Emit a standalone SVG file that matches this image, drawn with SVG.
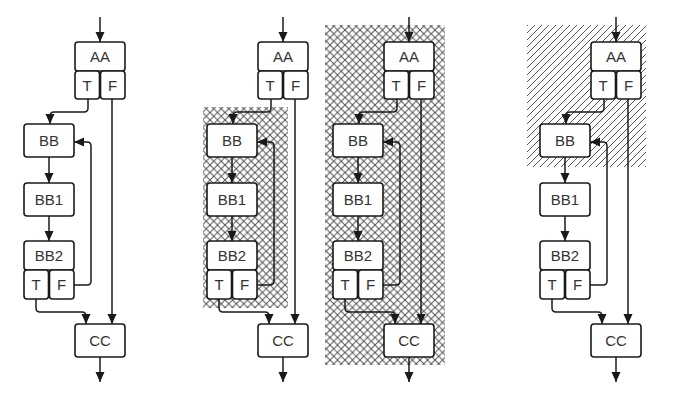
<svg xmlns="http://www.w3.org/2000/svg" width="690" height="402" viewBox="0 0 690 402">
<style>
.box{fill:#fff;stroke:#1a1a1a;stroke-width:1.6}
.lbl{font-family:"Liberation Sans",Arial,sans-serif;font-size:15px;fill:#333;text-anchor:middle}
.con{fill:none;stroke:#1a1a1a;stroke-width:1.5}
.arr{marker-end:url(#ah)}
</style>
<defs>
<marker id="ah" markerUnits="userSpaceOnUse" markerWidth="10" markerHeight="10" viewBox="0 0 10 10" refX="10" refY="5" orient="auto">
<path d="M0,0.5 L10,5 L0,9.5 Z" fill="#1a1a1a"/>
</marker>
<pattern id="cross" patternUnits="userSpaceOnUse" width="7.5" height="7.5">
<path d="M-1,8.5 L8.5,-1 M-1,-1 L8.5,8.5" stroke="#555" stroke-width="1" fill="none"/>
</pattern>
<pattern id="diag" patternUnits="userSpaceOnUse" width="7" height="7">
<path d="M-1,8 L8,-1 M-4,4 L4,-4 M3,11 L11,3" stroke="#555" stroke-width="1" fill="none"/>
</pattern>
<g id="panel">
<g id="connectors">
<path class="con arr" d="M100,17 V42"/>
<path class="con arr" d="M88,99 V108 Q88,112 84,112 H54 Q50,112 50,116 V124"/>
<path class="con arr" d="M49,157 V183"/>
<path class="con arr" d="M49,216 V241"/>
<path class="con arr" d="M74,285 H87 Q91,285 91,281 V146 Q91,142 87,142 H74"/>
<path class="con arr" d="M36,299 V308 Q36,312 40,312 H82 Q86,312 86,316 V324"/>
<path class="con arr" d="M112,99 V324"/>
<path class="con arr" d="M100,357 V382"/>
</g>
<g class="node-AA">
<rect class="box" x="75" y="42" width="50" height="29" rx="3"/>
<text class="lbl" x="100" y="62">AA</text>
</g>
<g class="node-AA-T">
<rect class="box" x="75" y="71" width="24.5" height="28" rx="3"/>
<text class="lbl" x="87" y="90.5">T</text>
</g>
<g class="node-AA-F">
<rect class="box" x="100.5" y="71" width="24.5" height="28" rx="3"/>
<text class="lbl" x="112.5" y="90.5">F</text>
</g>
<g class="node-BB">
<rect class="box" x="24" y="124" width="50" height="33" rx="3"/>
<text class="lbl" x="49" y="146">BB</text>
</g>
<g class="node-BB1">
<rect class="box" x="24" y="183" width="50" height="33" rx="3"/>
<text class="lbl" x="49" y="205">BB1</text>
</g>
<g class="node-BB2">
<rect class="box" x="24" y="241" width="50" height="29" rx="3"/>
<text class="lbl" x="49" y="261">BB2</text>
</g>
<g class="node-BB2-T">
<rect class="box" x="24" y="270" width="24.5" height="29" rx="3"/>
<text class="lbl" x="36" y="290">T</text>
</g>
<g class="node-BB2-F">
<rect class="box" x="49.5" y="270" width="24.5" height="29" rx="3"/>
<text class="lbl" x="61.5" y="290">F</text>
</g>
<g class="node-CC">
<rect class="box" x="75" y="324" width="50" height="33" rx="3"/>
<text class="lbl" x="100" y="346">CC</text>
</g>
</g>
</defs>
<rect width="690" height="402" fill="#fff"/>
<g id="hatch">
<rect x="203" y="107" width="85" height="201" fill="url(#cross)"/>
<rect x="325" y="25" width="120" height="340" fill="url(#cross)"/>
<rect x="527" y="25" width="119" height="142" fill="url(#diag)"/>
</g>
<g id="diagram1"><use href="#panel"/></g>
<g id="diagram2" transform="translate(183,0)"><use href="#panel"/></g>
<g id="diagram3" transform="translate(309,0)"><use href="#panel"/></g>
<g id="diagram4" transform="translate(516,0)"><use href="#panel"/></g>
</svg>
